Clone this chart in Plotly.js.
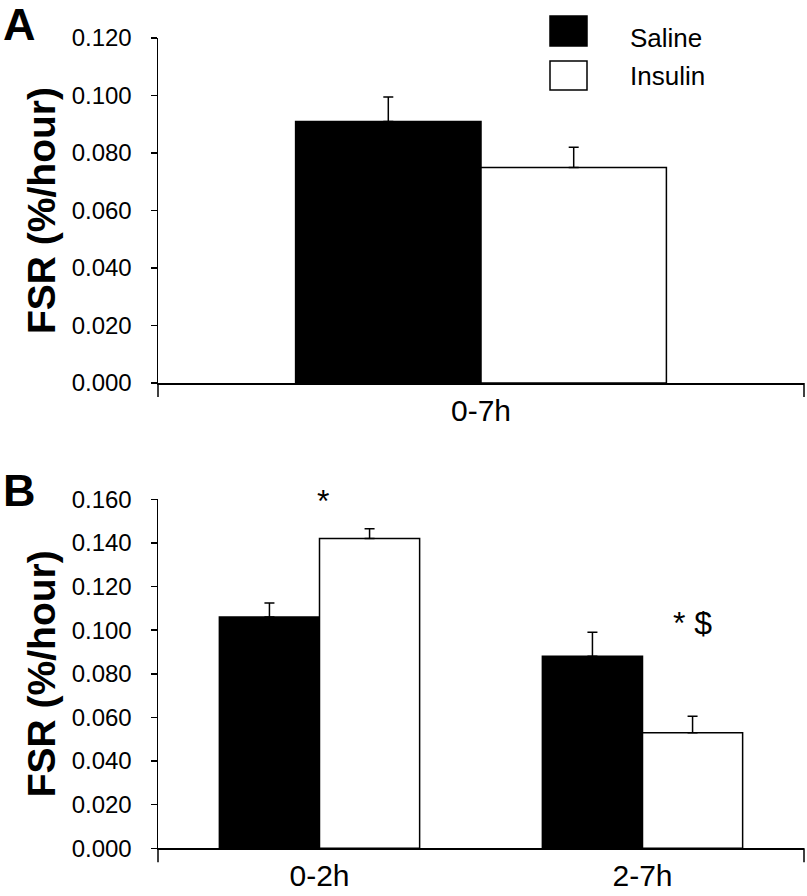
<!DOCTYPE html>
<html>
<head>
<meta charset="utf-8">
<script src="https://cdn.plot.ly/plotly-3.0.1.min.js"></script>
<style>html,body{margin:0;padding:0;background:#fff;}</style>
</head>
<body>
<div id="chart" style="width:807px;height:896px;"></div>
<script>
// ---- Data ----
const seriesNames = ["Saline", "Insulin"];
const categoriesA = ["0-7h"];
const salineA = [0.091];
const salineAErr = [0.0085];
const insulinA = [0.075];
const insulinAErr = [0.007];

const categoriesB = ["0-2h", "2-7h"];
const salineB = [0.106, 0.088];
const salineBErr = [0.0065, 0.011];
const insulinB = [0.142, 0.053];
const insulinBErr = [0.0045, 0.0075];

const yTitle = "FSR (%/hour)";
const panelLabels = ["A", "B"];
const sigMarks = ["*", "* $"];

// ---- Styling ----
const FONT = "Liberation Sans, Arial, sans-serif";
const H = 896;
function py(p) { return 1 - p / H; }

function barTrace(name, x, y, err, fill, xa, ya, w, off) {
  return {
    type: "bar", name: name, x: x, y: y, xaxis: xa, yaxis: ya,
    width: w, offset: off,
    marker: { color: fill, line: { color: "#000", width: 1.5 } },
    error_y: { type: "data", symmetric: false, array: err, arrayminus: err.map(() => 0),
               color: "#000", thickness: 1.5, width: 5 },
    showlegend: false, hoverinfo: "x+y"
  };
}
const wA = 0.287, wB = 0.31;
const data = [
  barTrace(seriesNames[0], categoriesA, salineA, salineAErr, "#000", "x", "y", wA, -wA),
  barTrace(seriesNames[1], categoriesA, insulinA, insulinAErr, "#fff", "x", "y", wA, 0),
  barTrace(seriesNames[0], categoriesB, salineB, salineBErr, "#000", "x2", "y2", wB, -wB),
  barTrace(seriesNames[1], categoriesB, insulinB, insulinBErr, "#fff", "x2", "y2", wB, 0)
];

const yBase = {
  showline: true, linecolor: "#000", linewidth: 1.5,
  ticks: "outside", ticklen: 6, tickcolor: "#000", tickwidth: 1.5,
  tickformat: ".3f", dtick: 0.02, showgrid: false, zeroline: false,
  tickfont: { family: FONT, size: 24, color: "#000" },
  ticklabelstandoff: 14,
  title: { text: yTitle, standoff: 4, font: { family: FONT, size: 39, color: "#000", weight: "bold" } },
  automargin: false, fixedrange: true
};
const xBase = {
  showline: true, linecolor: "#000", linewidth: 1.5, ticks: "",
  tickfont: { family: FONT, size: 30, color: "#000" },
  showgrid: false, zeroline: false, automargin: false, fixedrange: true, domain: [0, 1]
};

const domA = [py(383), py(38)];
const domB = [py(848.3), py(499.3)];

const layout = {
  width: 807, height: 896,
  margin: { l: 158, r: 3, t: 0, b: 0, pad: 0 },
  paper_bgcolor: "#fff", plot_bgcolor: "#fff",
  font: { family: FONT, color: "#000" },
  showlegend: false,
  xaxis: Object.assign({}, xBase, { anchor: "y" }),
  yaxis: Object.assign({}, yBase, { anchor: "x", domain: domA, range: [0, 0.12] }),
  xaxis2: Object.assign({}, xBase, { anchor: "y2" }),
  yaxis2: Object.assign({}, yBase, { anchor: "x2", domain: domB, range: [0, 0.16] }),
  shapes: [
    // end ticks on category axes
    { type: "line", xref: "paper", yref: "paper", x0: 0, x1: 0, y0: domA[0], y1: domA[0] - 14 / H, line: { color: "#000", width: 1.5 } },
    { type: "line", xref: "paper", yref: "paper", x0: 1, x1: 1, y0: domA[0], y1: domA[0] - 14 / H, line: { color: "#000", width: 1.5 } },
    { type: "line", xref: "paper", yref: "paper", x0: 0, x1: 0, y0: domB[0], y1: domB[0] - 14 / H, line: { color: "#000", width: 1.5 } },
    { type: "line", xref: "paper", yref: "paper", x0: 1, x1: 1, y0: domB[0], y1: domB[0] - 14 / H, line: { color: "#000", width: 1.5 } },
    // legend boxes
    { type: "rect", xref: "paper", yref: "paper", x0: (550 - 158) / 646, x1: (587 - 158) / 646, y0: py(46), y1: py(16),
      fillcolor: "#000", line: { color: "#000", width: 1.5 } },
    { type: "rect", xref: "paper", yref: "paper", x0: (550 - 158) / 646, x1: (587 - 158) / 646, y0: py(90), y1: py(61),
      fillcolor: "#fff", line: { color: "#000", width: 1.5 } }
  ],
  annotations: [
    { xref: "paper", yref: "paper", x: (628 - 158) / 646, y: py(38), xanchor: "left", yanchor: "middle",
      text: seriesNames[0], showarrow: false, font: { family: FONT, size: 26, color: "#000" } },
    { xref: "paper", yref: "paper", x: (628 - 158) / 646, y: py(76), xanchor: "left", yanchor: "middle",
      text: seriesNames[1], showarrow: false, font: { family: FONT, size: 26, color: "#000" } },
    { xref: "paper", yref: "paper", x: (1 - 158) / 646, y: py(24), xanchor: "left", yanchor: "middle",
      text: "<b>" + panelLabels[0] + "</b>", showarrow: false, font: { family: FONT, size: 45, color: "#000" } },
    { xref: "paper", yref: "paper", x: (1 - 158) / 646, y: py(490), xanchor: "left", yanchor: "middle",
      text: "<b>" + panelLabels[1] + "</b>", showarrow: false, font: { family: FONT, size: 45, color: "#000" } },
    { xref: "x2", yref: "y2", x: categoriesB[0], y: 0.159, xshift: 3, xanchor: "center", yanchor: "middle",
      text: sigMarks[0], showarrow: false, font: { family: FONT, size: 32, color: "#000" } },
    { xref: "x2", yref: "y2", x: categoriesB[1], y: 0.1033, xshift: 50, xanchor: "center", yanchor: "middle",
      text: sigMarks[1], showarrow: false, font: { family: FONT, size: 32, color: "#000" } }
  ]
};

Plotly.newPlot("chart", data, layout, { displayModeBar: false, staticPlot: true });
</script>
</body>
</html>
